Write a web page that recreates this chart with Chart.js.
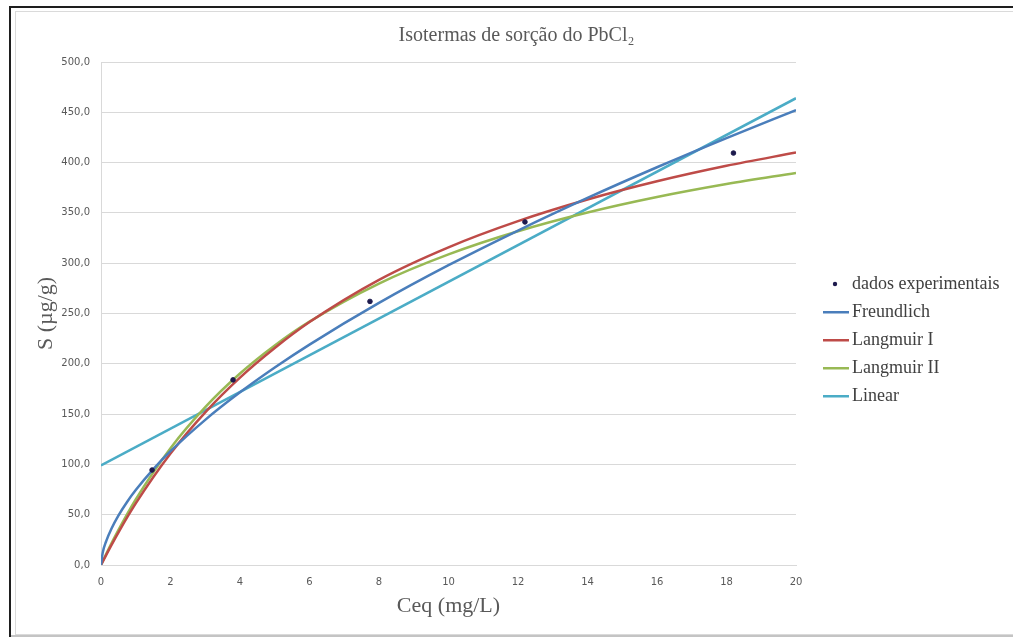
<!DOCTYPE html>
<html>
<head>
<meta charset="utf-8">
<script src="https://cdn.jsdelivr.net/npm/chart.js@4/dist/chart.umd.min.js"></script>
<style>
  html, body { margin: 0; padding: 0; background: #fff; }
  #wrap { position: relative; width: 1013px; height: 637px; overflow: hidden; }
  #chart { position: absolute; left: 0; top: 0; }
  .frame-dark { position: absolute; left: 9px; top: 6px; width: 1010px; height: 640px;
    border-left: 2px solid #1e1e1e; border-top: 2px solid #1e1e1e; pointer-events: none; }
  .frame-light { position: absolute; left: 15px; top: 11px; width: 1000px; height: 622px;
    border: 1px solid #dadada; border-right: none; pointer-events: none; }
  .frame-bottom { position: absolute; left: 11px; top: 635px; width: 1002px; height: 2px;
    background: #c4c4c4; pointer-events: none; }
</style>
</head>
<body>
<div id="wrap">
  <canvas id="chart" width="1013" height="637"></canvas>
  <div class="frame-dark"></div>
  <div class="frame-light"></div>
  <div class="frame-bottom"></div>
</div>
<script>
// experimental points (Ceq mg/L, S ug/g)
const expX = [1.47, 3.80, 7.74, 12.2, 18.2];
const expY = [94.4, 184.0, 262.0, 341.0, 409.5];

// fitted curves
const freundX = [0, 0.05, 0.15, 0.3, 0.5, 0.75, 1, 1.5, 2, 3, 4, 5, 6, 8, 10, 12, 14, 16, 18, 20];
const freundY = [0, 12.3, 23.8, 36.1, 49.1, 62.7, 74.5, 95.1, 113.1, 144.3, 171.6, 196.3, 219.1, 260.5, 298.0, 332.5, 364.9, 395.4, 424.4, 452.2];

const langX = [0, 0.25, 0.5, 1, 2, 3, 4, 5, 6, 8, 10, 12, 14, 16, 18, 20];
const lang1Y = [0, 16.6, 32.3, 61.2, 110.8, 151.8, 186.3, 215.7, 241.5, 283.5, 315.8, 341.8, 363.3, 381.4, 396.8, 410.0];
const lang2Y = [0, 18.0, 34.7, 65.2, 116.1, 156.9, 190.3, 218.2, 241.9, 279.8, 308.8, 331.8, 350.4, 365.8, 378.7, 389.7];

const linX = [0, 20];
const linY = [99.0, 464.0];

const xTicks = [0, 20, 2];
const yTicks = [0, 500, 50];

const colors = {
  dados: '#1d1a4d',
  freundlich: '#4a7ebb',
  langmuir1: '#be4b48',
  langmuir2: '#98b954',
  linear: '#4bacc6'
};

const toXY = (xs, ys) => xs.map((x, i) => ({ x: x, y: ys[i] }));

function lineMarker(color) {
  const c = document.createElement('canvas');
  c.width = 30; c.height = 4;
  const g = c.getContext('2d');
  g.fillStyle = color;
  g.fillRect(4, 1, 26, 2.5);
  return c;
}

function dotMarker(color) {
  const c = document.createElement('canvas');
  c.width = 30; c.height = 8;
  const g = c.getContext('2d');
  g.fillStyle = color;
  g.beginPath();
  g.arc(16, 4, 2.2, 0, Math.PI * 2);
  g.fill();
  return c;
}

const curve = (label, xs, ys, color) => ({
  label: label,
  data: toXY(xs, ys),
  showLine: true,
  borderColor: color,
  backgroundColor: color,
  borderWidth: 2.5,
  pointRadius: 0,
  pointHoverRadius: 0,
  cubicInterpolationMode: 'monotone'
});

const datasets = [
  {
    label: 'dados experimentais',
    data: toXY(expX, expY),
    showLine: false,
    pointRadius: 2.3,
    pointBackgroundColor: colors.dados,
    pointBorderColor: colors.dados,
    backgroundColor: colors.dados,
    borderColor: colors.dados
  },
  curve('Freundlich', freundX, freundY, colors.freundlich),
  curve('Langmuir I', langX, lang1Y, colors.langmuir1),
  curve('Langmuir II', langX, lang2Y, colors.langmuir2),
  curve('Linear', linX, linY, colors.linear)
];

const markers = [
  dotMarker(colors.dados),
  lineMarker(colors.freundlich),
  lineMarker(colors.langmuir1),
  lineMarker(colors.langmuir2),
  lineMarker(colors.linear)
];

// place the legend where Excel put it
const legendPlacer = {
  id: 'legendPlacer',
  afterInit(chart) {
    const lg = chart.legend;
    const fit = lg.fit.bind(lg);
    lg.fit = function () {
      fit();
      this.width = 217;
    };
  },
  afterLayout(chart) {
    const lg = chart.legend;
    lg.left = 815;
    lg.right = lg.left + lg.width;
    const h = lg.height;
    lg.top = 265;
    lg.bottom = lg.top + h;
  }
};

const comma = v => v.toFixed(1).replace('.', ',');

new Chart(document.getElementById('chart'), {
  type: 'scatter',
  data: { datasets: datasets },
  plugins: [legendPlacer],
  options: {
    responsive: false,
    animation: false,
    devicePixelRatio: 1,
    layout: {
      padding: { left: 20, right: 0, top: 10, bottom: 0 }
    },
    plugins: {
      tooltip: { enabled: false },
      title: {
        display: true,
        text: 'Isotermas de sorção do PbCl₂',
        color: '#595959',
        font: { family: 'Liberation Serif', size: 20, weight: 'normal' },
        padding: { top: 14, bottom: 14 }
      },
      legend: {
        position: 'right',
        align: 'start',
        labels: {
          usePointStyle: true,
          boxWidth: 20,
          padding: 10,
          color: '#404040',
          font: { family: 'Liberation Serif', size: 18 },
          generateLabels: chart => chart.data.datasets.map((ds, i) => ({
            text: ds.label,
            pointStyle: markers[i],
            fillStyle: ds.borderColor,
            strokeStyle: ds.borderColor,
            lineWidth: 0,
            hidden: false,
            datasetIndex: i,
            fontColor: '#404040'
          }))
        }
      }
    },
    scales: {
      x: {
        type: 'linear',
        min: xTicks[0],
        max: xTicks[1],
        afterFit: s => { s.height = 72; },
        ticks: {
          stepSize: xTicks[2],
          padding: 11,
          color: '#595959',
          font: { family: 'DejaVu Sans', size: 10 }
        },
        grid: { display: false, drawTicks: false },
        border: { display: true, color: '#d9d9d9', width: 1 },
        title: {
          display: true,
          text: 'Ceq (mg/L)',
          color: '#595959',
          font: { family: 'Liberation Serif', size: 22 },
          padding: { top: 0, bottom: 17.8 }
        }
      },
      y: {
        type: 'linear',
        min: yTicks[0],
        max: yTicks[1],
        afterFit: s => { s.width = 81; },
        ticks: {
          stepSize: yTicks[2],
          padding: 11,
          color: '#595959',
          font: { family: 'DejaVu Sans', size: 10 },
          callback: v => comma(v)
        },
        grid: { color: '#d9d9d9', lineWidth: 1, drawTicks: false },
        border: { display: true, color: '#d9d9d9', width: 1 },
        title: {
          display: true,
          text: 'S (µg/g)',
          color: '#595959',
          font: { family: 'Liberation Serif', size: 22 },
          padding: { top: 12.8, bottom: 0 }
        }
      }
    }
  }
});
</script>
</body>
</html>
